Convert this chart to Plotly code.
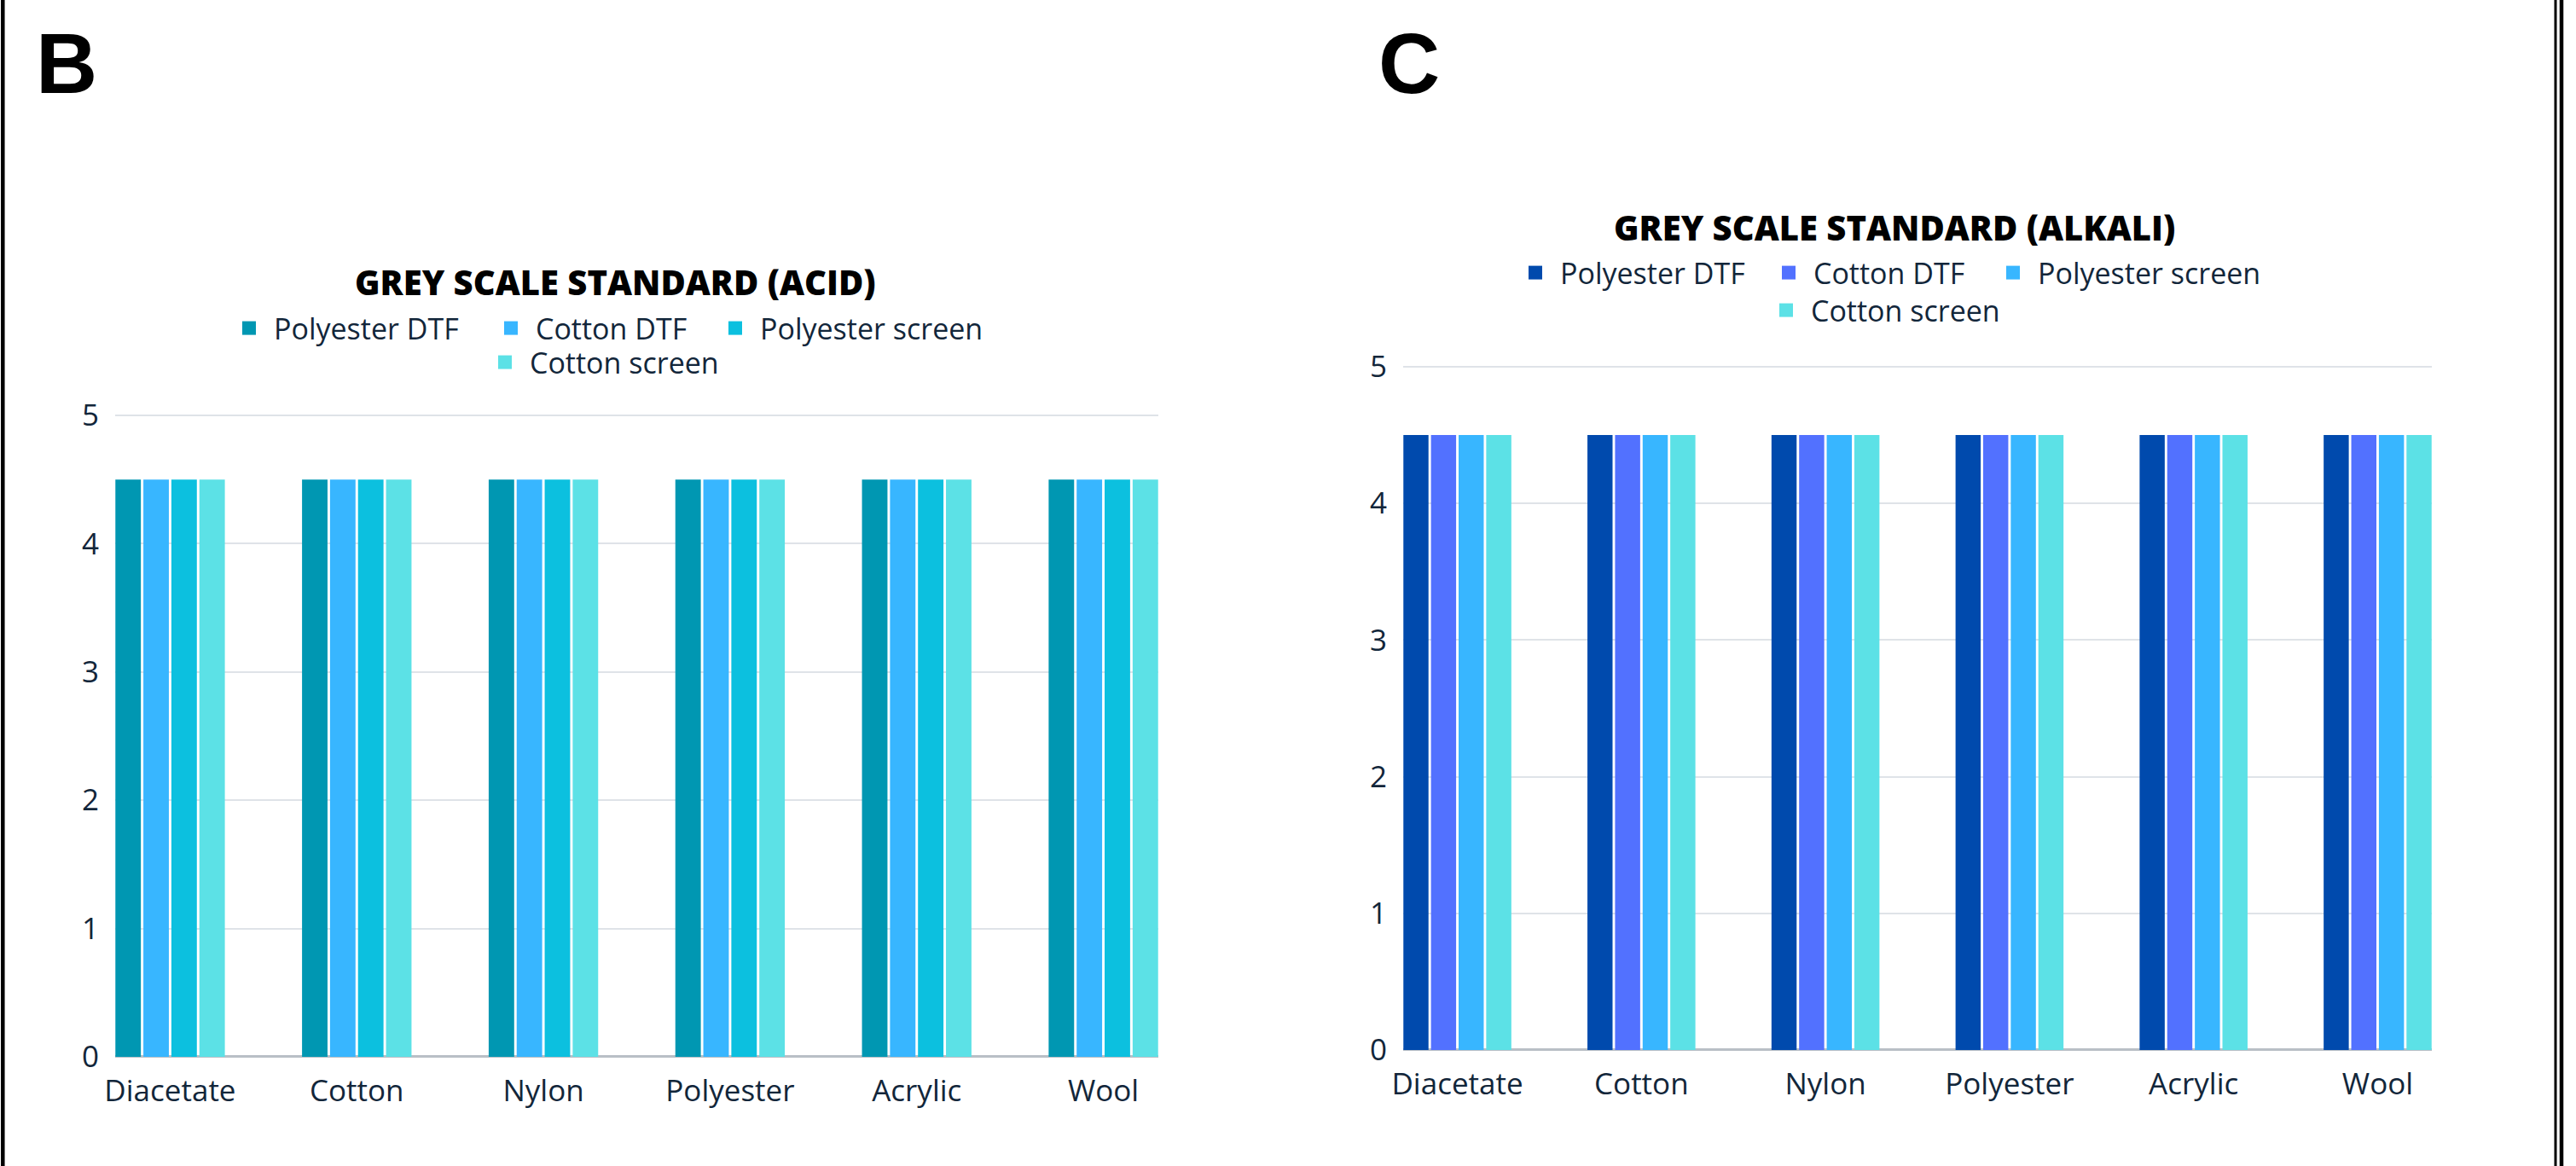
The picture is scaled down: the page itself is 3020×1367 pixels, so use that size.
import plotly.graph_objects as go

# ---- data -------------------------------------------------------------
categories = ["Diacetate", "Cotton", "Nylon", "Polyester", "Acrylic", "Wool"]
series_names = ["Polyester DTF", "Cotton DTF", "Polyester screen", "Cotton screen"]

acid_polyester_dtf = [4.5, 4.5, 4.5, 4.5, 4.5, 4.5]
acid_cotton_dtf = [4.5, 4.5, 4.5, 4.5, 4.5, 4.5]
acid_polyester_screen = [4.5, 4.5, 4.5, 4.5, 4.5, 4.5]
acid_cotton_screen = [4.5, 4.5, 4.5, 4.5, 4.5, 4.5]

alkali_polyester_dtf = [4.5, 4.5, 4.5, 4.5, 4.5, 4.5]
alkali_cotton_dtf = [4.5, 4.5, 4.5, 4.5, 4.5, 4.5]
alkali_polyester_screen = [4.5, 4.5, 4.5, 4.5, 4.5, 4.5]
alkali_cotton_screen = [4.5, 4.5, 4.5, 4.5, 4.5, 4.5]

y_ticks = [0, 1, 2, 3, 4, 5]

# ---- styling ----------------------------------------------------------
W, H = 3020, 1367
FONT = "Open Sans"
TEXT = "#12263a"
GRID = "#dfe3e8"
BASE = "#b9bfc6"
acid_colors = ["#0097b2", "#38b6ff", "#0cc0df", "#5ce1e6"]
alkali_colors = ["#004aad", "#5271ff", "#38b6ff", "#5ce1e6"]
Y_TOP = 5.06  # a little headroom so the gridline at 5 is not clipped


def px_x(v):
    return v / W


def px_y(v):
    return 1 - v / H


fig = go.Figure()

acid_series = [acid_polyester_dtf, acid_cotton_dtf, acid_polyester_screen, acid_cotton_screen]
alkali_series = [alkali_polyester_dtf, alkali_cotton_dtf, alkali_polyester_screen, alkali_cotton_screen]

# legend widths (px) set the spacing between entries on a row
acid_widths = [244, 200, None, None]
alkali_widths = [234, 200, None, None]


def add_chart(series, colors, widths, xa, ya, legends):
    for i, (name, vals) in enumerate(zip(series_names, series)):
        fig.add_trace(go.Bar(
            x=categories, y=vals, name=name, xaxis=xa, yaxis=ya,
            marker=dict(color=colors[i], line=dict(width=0)),
            showlegend=False,
        ))
        # legend entry with a larger square swatch
        fig.add_trace(go.Scatter(
            x=[None], y=[None], mode="markers", name=name, xaxis=xa, yaxis=ya,
            marker=dict(symbol="square", size=16, color=colors[i]),
            legend=legends[0] if i < 3 else legends[1],
            legendwidth=widths[i], hoverinfo="skip",
        ))


add_chart(acid_series, acid_colors, acid_widths, "x", "y", ("legend", "legend2"))
add_chart(alkali_series, alkali_colors, alkali_widths, "x2", "y2", ("legend3", "legend4"))


def x_axis(domain, anchor):
    return dict(
        domain=domain, anchor=anchor, range=[-0.2945, 5.2945], type="category",
        showgrid=False, showline=False, zeroline=False, ticks="",
        tickfont=dict(family=FONT, size=35, color=TEXT),
        ticklabelstandoff=16, fixedrange=True,
    )


def y_axis(bottom_px, five_px, anchor):
    unit = (bottom_px - five_px) / 5.0
    top_px = bottom_px - Y_TOP * unit
    return dict(
        domain=[px_y(bottom_px), px_y(top_px)], anchor=anchor, range=[0, Y_TOP],
        tickvals=y_ticks,
        showgrid=True, gridcolor=GRID, gridwidth=2,
        zeroline=True, zerolinecolor=BASE, zerolinewidth=3,
        showline=False, ticks="",
        tickfont=dict(family=FONT, size=35, color=TEXT),
        ticklabelstandoff=18, fixedrange=True,
    )


def row_legend(x_px, y_px):
    return dict(
        orientation="h", x=px_x(x_px), y=px_y(y_px), xanchor="left", yanchor="middle",
        xref="paper", yref="paper", itemwidth=48,
        font=dict(family=FONT, size=34, color=TEXT),
        bgcolor="rgba(0,0,0,0)", borderwidth=0,
    )


fig.update_layout(
    width=W, height=H,
    margin=dict(l=0, r=0, t=0, b=0, autoexpand=False),
    paper_bgcolor="white", plot_bgcolor="white",
    barmode="group", bargap=0.40, bargroupgap=0.09,
    showlegend=True,
    xaxis=x_axis([px_x(135), px_x(1358)], "y"),
    yaxis=y_axis(1239, 487, "x"),
    xaxis2=x_axis([px_x(1645), px_x(2851)], "y2"),
    yaxis2=y_axis(1231, 430, "x2"),
    legend=row_legend(263, 385),
    legend2=row_legend(563, 425),
    legend3=row_legend(1771, 320),
    legend4=row_legend(2065, 364),
)

# chart titles
fig.add_annotation(
    text="GREY SCALE STANDARD (ACID)", x=px_x(721), y=px_y(330),
    xref="paper", yref="paper", xanchor="center", yanchor="middle", showarrow=False,
    font=dict(family=FONT, size=40, color="#000000", weight=800),
)
fig.add_annotation(
    text="GREY SCALE STANDARD (ALKALI)", x=px_x(2221), y=px_y(267),
    xref="paper", yref="paper", xanchor="center", yanchor="middle", showarrow=False,
    font=dict(family=FONT, size=40, color="#000000", weight=800),
)

# panel letters
for letter, x0 in (("B", 40), ("C", 1614)):
    fig.add_annotation(
        text=letter, x=px_x(x0), y=px_y(74),
        xref="paper", yref="paper", xanchor="left", yanchor="middle", showarrow=False,
        font=dict(family="Liberation Sans, Arial", size=100, color="#000000", weight="bold"),
    )

# frame lines along the sides of the figure
for xc, lw in ((3.3, 4.5), (2996, 3), (3003, 4.5)):
    fig.add_shape(
        type="line", xref="paper", yref="paper",
        x0=px_x(xc), x1=px_x(xc), y0=0, y1=1,
        line=dict(color="#000000", width=lw),
    )

fig.write_html("out.html")
